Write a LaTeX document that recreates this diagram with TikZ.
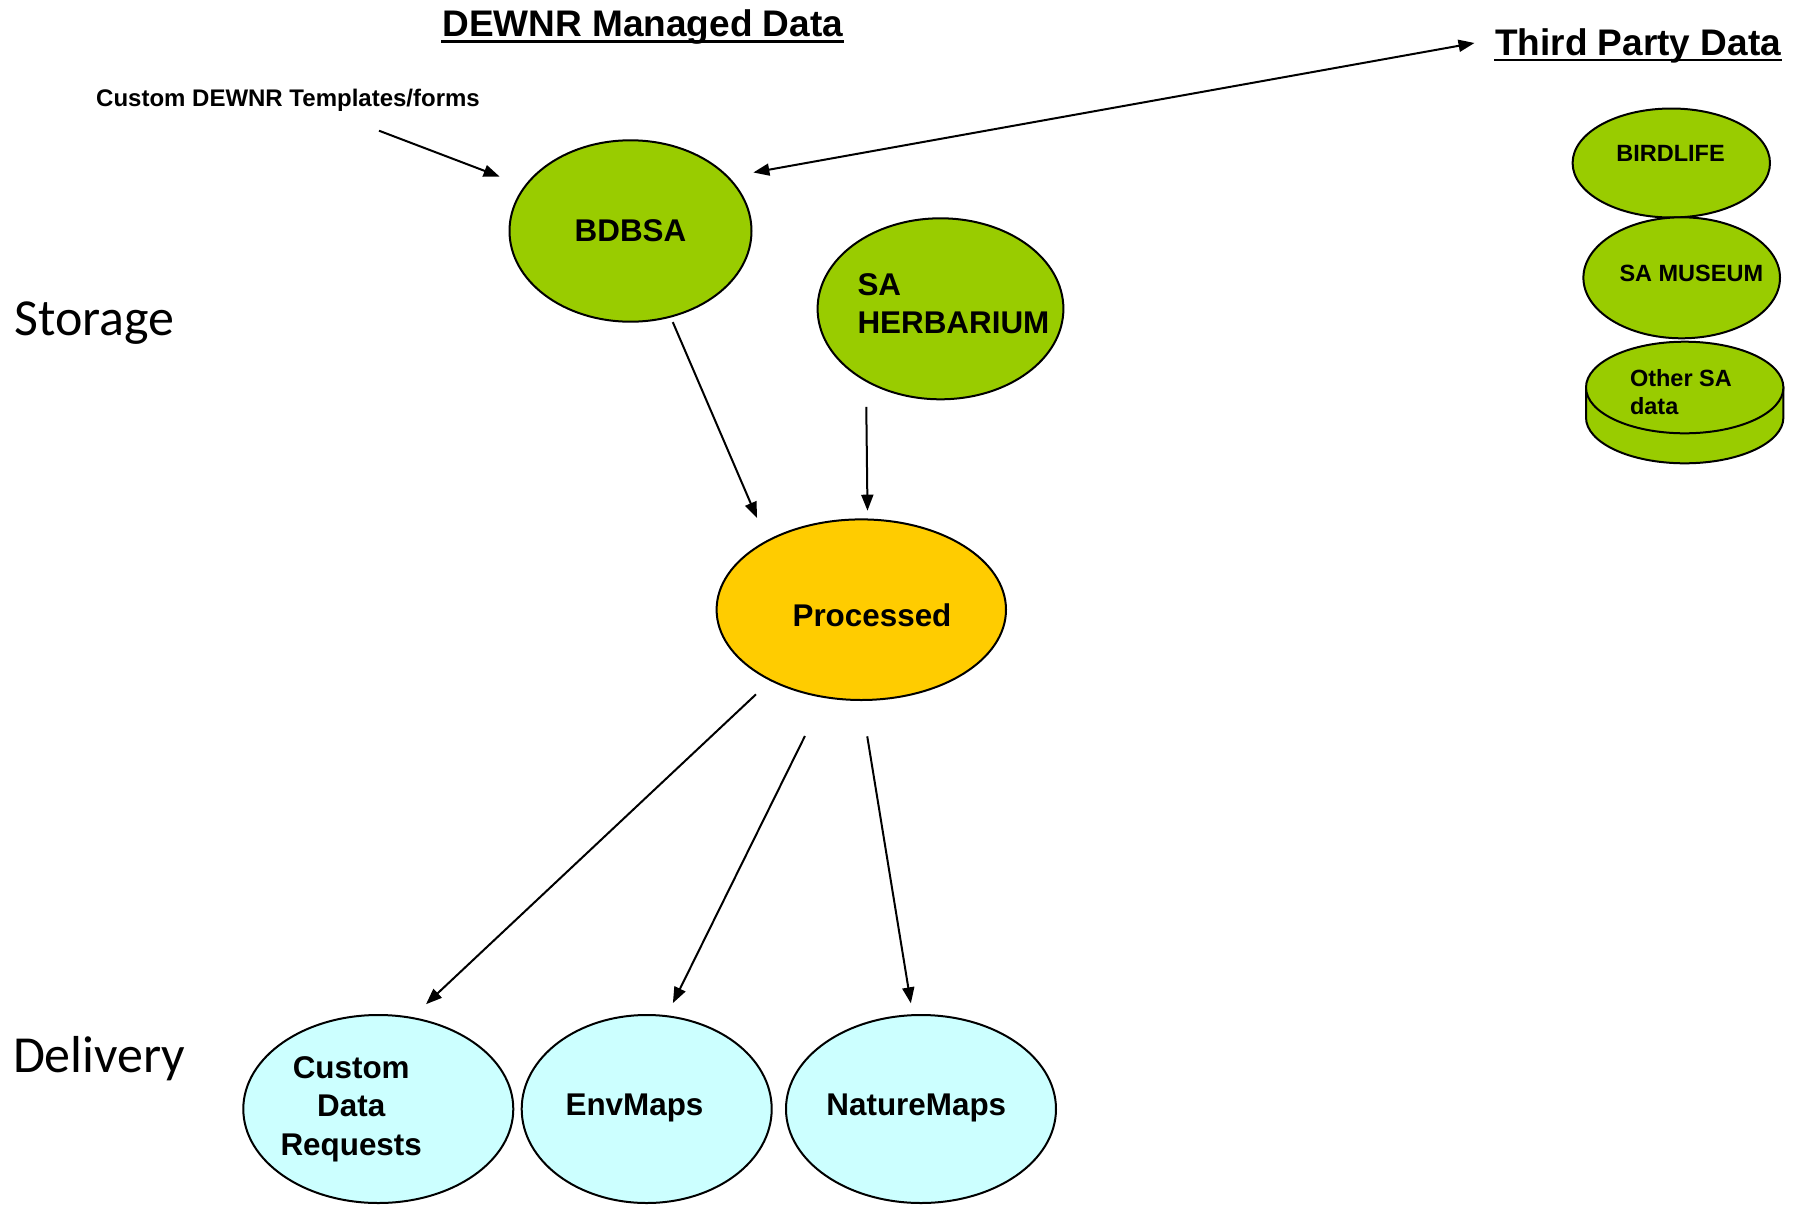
\documentclass[tikz,border=0pt]{standalone}
\usepackage{fontspec}
\setmainfont{Liberation Sans}
\newfontfamily\carlito{Carlito}
\usetikzlibrary{shapes.geometric,arrows.meta}

\definecolor{dewgreen}{RGB}{153,204,0}
\definecolor{procorange}{RGB}{255,204,0}
\definecolor{delivcyan}{RGB}{204,255,255}

\tikzset{every picture/.style={line width=1pt}}
\tikzset{
  blob/.style={ellipse, draw, inner sep=0pt, outer sep=0pt},
  storeblob/.style={blob, fill=dewgreen},
  procblob/.style={blob, fill=procorange},
  delivblob/.style={blob, fill=delivcyan},
  biglbl/.style={inner sep=0pt, font=\fontsize{15.7pt}{19.15pt}\selectfont\bfseries},
  smalllbl/.style={inner sep=0pt, font=\fontsize{11.75pt}{13.85pt}\selectfont\bfseries},
  headlbl/.style={inner sep=0pt, anchor=base west, font=\fontsize{18.5pt}{22pt}\selectfont\bfseries},
  stagelbl/.style={inner sep=0pt, anchor=base west, font=\carlito\fontsize{26pt}{30pt}\selectfont},
  flow/.style={-{Triangle[length=8pt,width=6pt]}},
  twoway/.style={{Triangle[length=8pt,width=6pt]}-{Triangle[length=8pt,width=6pt]}},
}

\begin{document}
\begin{tikzpicture}[x=0.5pt,y=0.5pt,yscale=-1]
\useasboundingbox (0,0) rectangle (1801,1205);

% Headings
\node[headlbl] (dewnr) at (441.3,36) {DEWNR Managed Data};
\node[headlbl] (tpd) at (1494.2,55) {Third Party Data};
\draw[line width=1.4pt] ([yshift=2.8pt]dewnr.base west) -- ([yshift=2.8pt]dewnr.base east);
\draw[line width=1.4pt] ([yshift=2.5pt]tpd.base west) -- ([yshift=2.5pt]tpd.base east);
% Text Node
\node[inner sep=0pt, anchor=base west, font=\fontsize{12pt}{14pt}\selectfont\bfseries] (tmpl) at (95.2,106) {Custom DEWNR Templates/forms};
\coordinate (tmplfoot) at (379,130.7);

% Stage names
\node[stagelbl] (storage) at (13.5,335) {Storage};
\node[stagelbl] (delivery) at (12,1072.7) {Delivery};

%Shape: Ellipse (storage)
\node[storeblob, minimum width=121pt, minimum height=90.7pt] (bdbsa) at (630.5,231) {};
\node[biglbl, anchor=base] (bdbsa-t) at (630.5,241) {BDBSA};
\node[storeblob, minimum width=122.9pt, minimum height=90.5pt] (herb) at (940.5,308.8) {};
\node[biglbl, anchor=base west, align=left] (herb-t) at (856.5,333.3) {SA\\HERBARIUM};

%Shape: Ellipse (processed)
\node[procblob, minimum width=144.7pt, minimum height=90.3pt] (proc) at (861.3,609.7) {};
\node[biglbl, anchor=base] (proc-t) at (872,626) {Processed};

%Shape: Ellipse (third party)
\node[storeblob, minimum width=98.7pt, minimum height=54.5pt] (birdlife) at (1671.3,163) {};
\node[smalllbl, anchor=base] (birdlife-t) at (1670.5,161) {BIRDLIFE};
\node[storeblob, minimum width=98.3pt, minimum height=60.5pt] (museum) at (1681.7,277.8) {};
\node[smalllbl, anchor=base] (museum-t) at (1691.3,281) {SA MUSEUM};
\draw[fill=dewgreen] (1586,387.5) -- (1586,417.5) arc[start angle=180, end angle=0, x radius=98.7, y radius=45.8] -- (1783.4,387.5) -- cycle;
\node[storeblob, minimum width=98.7pt, minimum height=45.8pt] (othersa) at (1684.7,387.5) {};
\node[smalllbl, anchor=base west, align=left] (othersa-t) at (1629,414) {Other SA\\data};

%Shape: Ellipse (delivery)
\node[delivblob, minimum width=135pt, minimum height=94pt] (cdr) at (378.3,1109) {};
\node[biglbl, anchor=base, align=center] (cdr-t) at (351.2,1155) {Custom\\Data\\Requests};
\node[delivblob, minimum width=125pt, minimum height=94pt] (envmaps) at (646.7,1109) {};
\node[biglbl, anchor=base] (envmaps-t) at (634.5,1115) {EnvMaps};
\node[delivblob, minimum width=135pt, minimum height=94pt] (naturemaps) at (921,1109) {};
\node[biglbl, anchor=base] (naturemaps-t) at (916.3,1115) {NatureMaps};

%Straight Lines
\draw[flow, shorten >=13.7pt] (tmplfoot) -- (bdbsa.157.1);
\draw[twoway, shorten <=13pt, shorten >=10pt] (bdbsa.29.5) -- ([yshift=-3pt]tpd.west);
\draw[flow, shorten <=3pt, shorten >=12.6pt] (bdbsa.-65.5) -- (proc.144.2);
\draw[flow, shorten <=13.1pt, shorten >=4.4pt] (herb.224.4) -- (proc.86.6);
\draw[flow, shorten <=10.3pt, shorten >=10pt] (proc.218.7) -- (cdr.70.7);
\draw[flow, shorten <=21.8pt, shorten >=7.3pt] (proc.247) -- (envmaps.78.1);
\draw[flow, shorten <=18.4pt, shorten >=6pt] (proc.-90) -- (naturemaps.95.5);

\end{tikzpicture}
\end{document}
